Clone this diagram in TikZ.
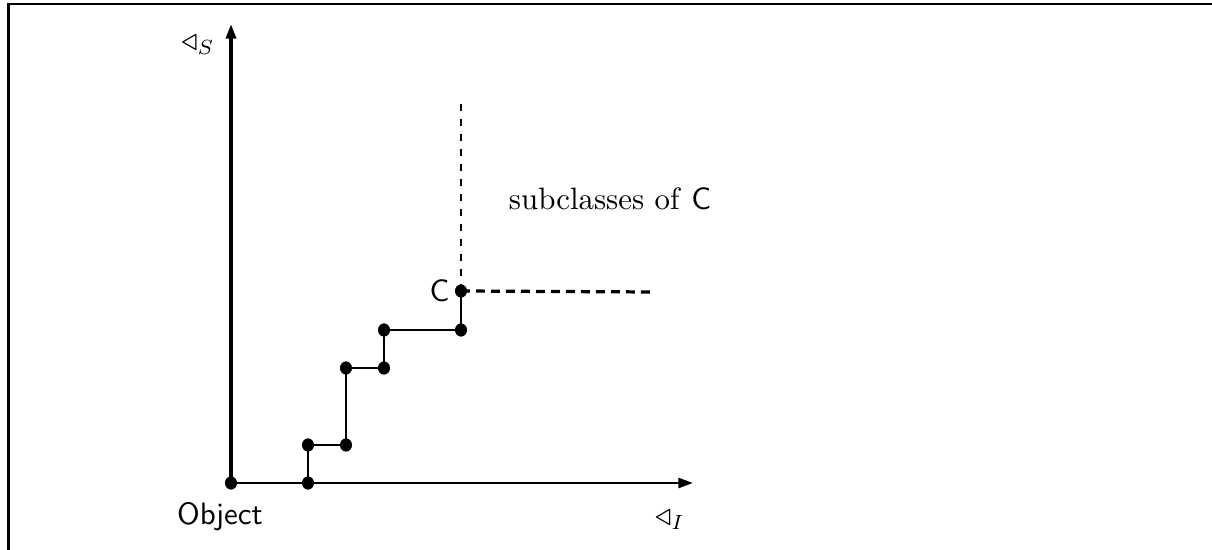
\documentclass[tikz,border=0pt]{standalone}
\usetikzlibrary{arrows.meta,shapes.geometric}
\begin{document}
\begin{tikzpicture}[x=0.34pt,y=-0.34pt,
  dot/.style={ellipse,fill=black,inner sep=0pt,minimum width=4.1pt,minimum height=4.5pt},
  axis/.style={-{Triangle[length=5pt,width=3.4pt]}},
  stair/.style={line width=0.95pt},
  vdash/.style={line width=0.85pt,dash pattern=on 2.5pt off 2.6pt},
  hdash/.style={line width=1.1pt,dash pattern=on 3pt off 2.1pt},
  frame/.style={line width=1pt},
  lbl/.style={inner sep=0pt,font=\fontsize{10.5}{12}\selectfont}]
\useasboundingbox (0,0) rectangle (1212,550);
\draw[frame] (8.5,550) -- (8.5,4) -- (1212,4);
% nodes
\node[dot] (o) at (231,483) {};
\node[dot] (a) at (308,483) {};
\node[dot] (b) at (308,445) {};
\node[dot] (c) at (346,445) {};
\node[dot] (d) at (346,368) {};
\node[dot] (e) at (384,368) {};
\node[dot] (f) at (384,330) {};
\node[dot] (g) at (461,330) {};
\node[dot] (C) at (461,291) {};
\coordinate (ytip) at (231,24);
\coordinate (xtip) at (693,483);
\coordinate (dtop) at (461,100);
\coordinate (dright) at (655,292);
% axes
\draw[axis,line width=1.2pt] (o.center) -- (ytip);
\draw[axis,line width=0.95pt] (o.center) -- (xtip);
% stairs
\draw[stair] (a.center) -- (b.center) -- (c.center) -- (d.center) -- (e.center) -- (f.center) -- (g.center) -- (C.center);
% dashed
\draw[vdash] (C.center) -- (dtop);
\draw[hdash] (C.center) -- (dright);
% labels
\node[lbl] (lo) at (220,517) {\sffamily Object};
\node[lbl] (ls) at (198,45) {$\triangleleft_S$};
\node[lbl] (li) at (670,520) {$\triangleleft_I$};
\node[lbl,anchor=east] (lc) at (450,291) {\sffamily C};
\node[lbl] (sub) at (610,199) {subclasses of \textsf{C}};
\end{tikzpicture}
\end{document}
